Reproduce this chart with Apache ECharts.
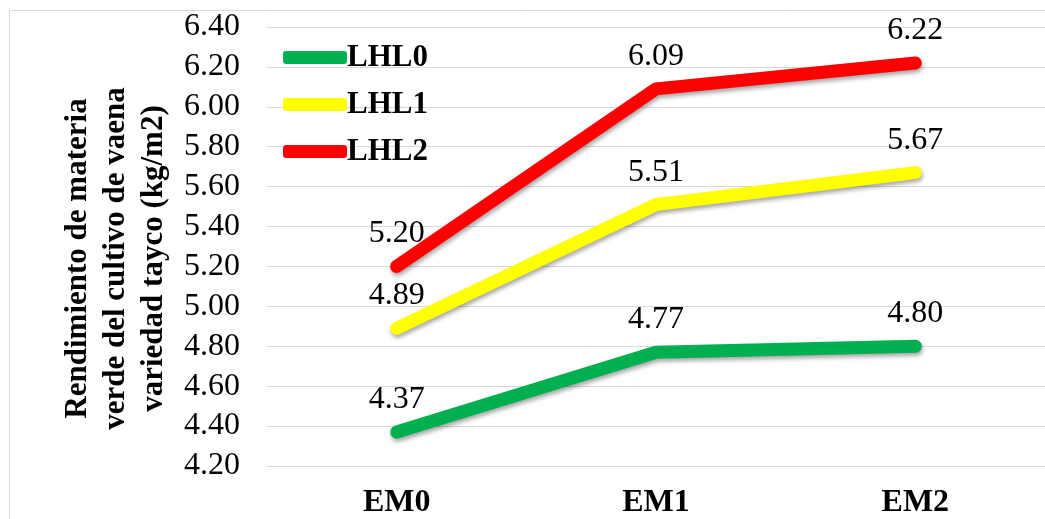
<!DOCTYPE html>
<html>
<head>
<meta charset="utf-8">
<script src="https://cdn.jsdelivr.net/npm/echarts@6/dist/echarts.min.js"></script>
<style>
  html, body { margin: 0; padding: 0; background: #fff; }
  #chart { width: 1045px; height: 519px; }
</style>
</head>
<body>
<div id="chart"></div>
<script>
// Categories (abono) and series values
const categories = ['EM0', 'EM1', 'EM2'];
const lhl0 = [4.37, 4.77, 4.80];
const lhl1 = [4.89, 5.51, 5.67];
const lhl2 = [5.20, 6.09, 6.22];
const seriesNames = ['LHL0', 'LHL1', 'LHL2'];
const seriesColors = ['#00B050', '#FFFF00', '#FF0000'];
const yTitle = 'Rendimiento de materia\nverde del cultivo de vaena\nvariedad tayco (kg/m2)';

const FONT = "'Liberation Serif', 'Times New Roman', serif";
const FS = 32;

function lineSeries(name, data, color) {
  return {
    name: name,
    type: 'line',
    data: data,
    symbol: 'circle',
    symbolSize: 1,
    showSymbol: true,
    smooth: false,
    lineStyle: {
      color: color,
      width: 13,
      cap: 'round',
      join: 'round',
      shadowColor: 'rgba(0,0,0,0.35)',
      shadowBlur: 4,
      shadowOffsetX: 1,
      shadowOffsetY: 3
    },
    itemStyle: { color: color },
    label: {
      show: true,
      position: 'top',
      distance: 16,
      fontFamily: FONT,
      fontSize: FS,
      color: '#000',
      formatter: p => p.value.toFixed(2)
    },
    labelLayout: { hideOverlap: false },
    emphasis: { disabled: true },
    animation: false
  };
}

const chart = echarts.init(document.getElementById('chart'), null, { renderer: 'canvas' });
chart.setOption({
  backgroundColor: '#fff',
  animation: false,
  graphic: [{
    type: 'rect',
    shape: { x: 9.5, y: 10.5, width: 1200, height: 700 },
    style: { fill: 'none', stroke: '#d9d9d9', lineWidth: 1 },
    silent: true,
    z: -1
  }],
  grid: { left: 267, right: 0, top: 27, bottom: 49, containLabel: false },
  legend: {
    orient: 'vertical',
    left: 278,
    top: 37,
    itemWidth: 64,
    itemHeight: 13,
    itemGap: 16,
    icon: 'roundRect',
    data: seriesNames,
    textStyle: {
      fontFamily: FONT,
      fontSize: 31,
      fontWeight: 'bold',
      color: '#000',
      padding: [0, 0, 0, -5]
    }
  },
  xAxis: {
    type: 'category',
    data: categories,
    boundaryGap: true,
    axisLine: { show: true, lineStyle: { color: '#d9d9d9' } },
    axisTick: { show: false },
    axisLabel: {
      margin: 21,
      fontFamily: FONT,
      fontSize: FS,
      fontWeight: 'bold',
      color: '#000'
    }
  },
  yAxis: {
    type: 'value',
    min: 4.2,
    max: 6.4,
    interval: 0.2,
    axisLine: { show: false },
    axisTick: { show: false },
    splitLine: { lineStyle: { color: '#d9d9d9', width: 1 } },
    axisLabel: {
      margin: 27,
      fontFamily: FONT,
      fontSize: FS,
      color: '#000',
      formatter: v => v.toFixed(2)
    },
    name: yTitle,
    nameLocation: 'middle',
    nameRotate: 90,
    nameGap: 87,
    nameTextStyle: {
      fontFamily: FONT,
      fontSize: 31,
      fontWeight: 'bold',
      color: '#000',
      lineHeight: 38,
      align: 'center',
      padding: [0, 24, 0, 0]
    }
  },
  series: [
    lineSeries(seriesNames[0], lhl0, seriesColors[0]),
    lineSeries(seriesNames[1], lhl1, seriesColors[1]),
    lineSeries(seriesNames[2], lhl2, seriesColors[2])
  ]
});
</script>
</body>
</html>
